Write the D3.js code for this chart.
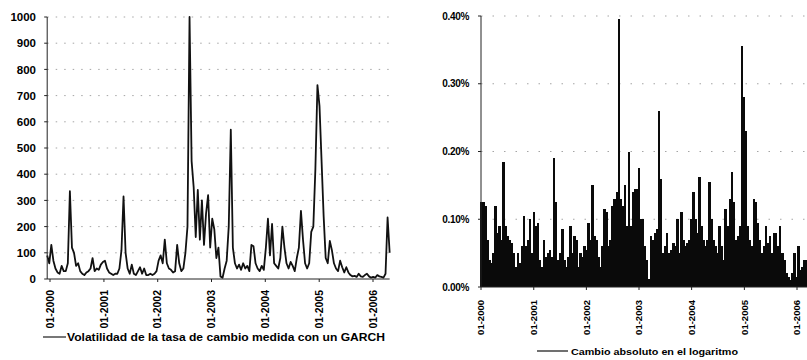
<!DOCTYPE html>
<html>
<head>
<meta charset="utf-8">
<script src="https://cdn.jsdelivr.net/npm/d3@7"></script>
<style>
  body { margin: 0; background: #fff; }
  svg { display: block; font-family: "Liberation Sans", Arial, sans-serif; font-weight: bold; }
</style>
</head>
<body>
<svg id="chart" width="807" height="360"></svg>
<script>
// GARCH volatility, one reading every two weeks starting mid-December 1999
var volStart = new Date(1999, 11, 13);
var volValues = [
  90, 60, 130, 70, 40, 25, 20, 50, 30, 30,
  60, 335, 120, 100, 50, 60, 30, 20, 15, 25,
  30, 40, 80, 30, 40, 35, 55, 65, 70, 40,
  25, 20, 15, 20, 20, 40, 110, 315, 100, 40,
  20, 55, 20, 15, 30, 45, 20, 40, 15, 15,
  20, 15, 20, 30, 70, 90, 60, 150, 60, 40,
  35, 25, 30, 130, 60, 30, 40, 100, 200, 1000,
  450, 350, 160, 340, 150, 300, 130, 250, 320, 120,
  230, 190, 80, 120, 10, 5, 40, 70, 200, 570,
  120, 60, 40, 55, 35, 60, 40, 50, 30, 130,
  125, 60, 40, 30, 50, 35, 120, 230, 90, 210,
  60, 50, 40, 80, 200, 120, 60, 40, 65, 50,
  30, 80, 120, 260, 150, 60, 40, 60, 180, 200,
  420, 740, 660, 450, 240, 80, 60, 145, 110, 60,
  40, 30, 70, 45, 25, 45, 25, 15, 10, 12,
  8, 20, 10, 8, 15, 20, 10, 5, 8, 5,
  15, 10, 8, 5, 20, 235, 100
];

// absolute change of the log (in %), one bar every two weeks from January 2000
var absStart = new Date(2000, 0, 3);
var absValues = [
  0.125, 0.125, 0.12, 0.07, 0.04, 0.035, 0.05, 0.12, 0.08, 0.09,
  0.07, 0.185, 0.09, 0.075, 0.07, 0.065, 0.05, 0.03, 0.05, 0.035,
  0.06, 0.105, 0.06, 0.07, 0.1, 0.05, 0.11, 0.09, 0.095, 0.04,
  0.03, 0.07, 0.045, 0.05, 0.055, 0.045, 0.19, 0.125, 0.04, 0.05,
  0.085, 0.04, 0.03, 0.045, 0.09, 0.05, 0.075, 0.07, 0.03, 0.05,
  0.045, 0.06, 0.055, 0.095, 0.07, 0.15, 0.075, 0.07, 0.045, 0.03,
  0.06, 0.115, 0.11, 0.06, 0.07, 0.12, 0.13, 0.14, 0.395, 0.13,
  0.12, 0.15, 0.09, 0.2, 0.09, 0.14, 0.145, 0.145, 0.175, 0.1,
  0.1, 0.06, 0.04, 0.012, 0.075, 0.07, 0.08, 0.085, 0.26, 0.16,
  0.05, 0.06, 0.08, 0.05, 0.055, 0.065, 0.06, 0.1, 0.05, 0.11,
  0.07, 0.06, 0.065, 0.07, 0.1, 0.14, 0.1, 0.08, 0.163, 0.09,
  0.07, 0.06, 0.07, 0.155, 0.1, 0.07, 0.06, 0.05, 0.09, 0.06,
  0.04, 0.115, 0.09, 0.13, 0.17, 0.125, 0.07, 0.075, 0.09, 0.355,
  0.28, 0.23, 0.09, 0.07, 0.06, 0.13, 0.125, 0.095, 0.07, 0.05,
  0.06, 0.09, 0.065, 0.075, 0.05, 0.08, 0.08, 0.06, 0.09, 0.05,
  0.04, 0.02, 0.015, 0.01, 0.02, 0.05, 0.015, 0.06, 0.025, 0.03,
  0.04, 0.04
];

var yearTicks = [2000, 2001, 2002, 2003, 2004, 2005, 2006];
var volTicks = [0, 100, 200, 300, 400, 500, 600, 700, 800, 900, 1000];
var absTicks = [0, 0.1, 0.2, 0.3, 0.4];

var volLabel = "Volatilidad de la tasa de cambio medida con un GARCH";
var absLabel = "Cambio absoluto en el logaritmo";

var svg = d3.select("#chart");
var fmtDate = d3.timeFormat("%m-%Y");
var DAY = 24 * 3600 * 1000;

var volData = volValues.map((v, i) => ({ date: new Date(volStart.getTime() + i * 14 * DAY), value: v }));
var absData = absValues.map((v, i) => ({ date: new Date(absStart.getTime() + i * 14 * DAY), value: v }));
var tickDates = yearTicks.map(y => new Date(y, 0, 1));

// ---------- left panel ----------
var xL = d3.scaleTime()
    .domain([new Date(2000, 0, 1), new Date(2006, 0, 1)])
    .range([50, 373]);
var yL = d3.scaleLinear().domain([0, 1000]).range([279, 17]);
var left = svg.append("g");
var leftX0 = xL(volData[0].date), leftX1 = xL(volData[volData.length - 1].date);

left.selectAll(".grid")
    .data(volTicks.filter(d => d > 0))
    .join("line")
    .attr("x1", leftX0).attr("x2", leftX1)
    .attr("y1", d => yL(d)).attr("y2", d => yL(d))
    .attr("stroke", "#a5a5a5").attr("stroke-width", 1)
    .attr("stroke-dasharray", "1.5,7");

left.append("path")
    .datum(volData)
    .attr("fill", "none")
    .attr("stroke", "#111")
    .attr("stroke-width", 1.8)
    .attr("stroke-linejoin", "round")
    .attr("d", d3.line().x(d => xL(d.date)).y(d => yL(d.value)));

left.append("line")
    .attr("x1", leftX0).attr("x2", leftX0).attr("y1", yL(1000)).attr("y2", yL(0))
    .attr("stroke", "#222");
left.append("line")
    .attr("x1", leftX0).attr("x2", leftX1).attr("y1", yL(0)).attr("y2", yL(0))
    .attr("stroke", "#222");

left.selectAll(".ytick")
    .data(volTicks)
    .join("line")
    .attr("x1", leftX0 - 3).attr("x2", leftX0)
    .attr("y1", d => yL(d)).attr("y2", d => yL(d))
    .attr("stroke", "#222");
left.selectAll(".ylab")
    .data(volTicks)
    .join("text")
    .attr("x", 36).attr("y", d => yL(d)).attr("dy", "0.36em")
    .attr("text-anchor", "end")
    .style("font-size", "11.5px")
    .text(d => d);

left.selectAll(".xtick")
    .data(tickDates)
    .join("line")
    .attr("x1", d => xL(d)).attr("x2", d => xL(d))
    .attr("y1", yL(0)).attr("y2", yL(0) + 3)
    .attr("stroke", "#222");
left.selectAll(".xlab")
    .data(tickDates)
    .join("text")
    .attr("transform", d => "translate(" + xL(d) + ",290) rotate(-90)")
    .attr("dy", "0.36em")
    .attr("text-anchor", "end")
    .style("font-size", "10.5px")
    .text(d => fmtDate(d));

left.append("line")
    .attr("x1", 43).attr("x2", 66).attr("y1", 337).attr("y2", 337)
    .attr("stroke", "#555").attr("stroke-width", 1.6);
left.append("text")
    .attr("x", 67).attr("y", 341)
    .style("font-size", "11px")
    .attr("textLength", 318).attr("lengthAdjust", "spacingAndGlyphs")
    .text(volLabel);

// ---------- right panel ----------
var xR = d3.scaleTime()
    .domain([new Date(2000, 0, 1), new Date(2006, 0, 1)])
    .range([481, 797]);
var yR = d3.scaleLinear().domain([0, 0.4]).range([287, 16]);
var right = svg.append("g");

right.selectAll(".grid")
    .data(absTicks.filter(d => d > 0))
    .join("line")
    .attr("x1", 481).attr("x2", 807)
    .attr("y1", d => yR(d)).attr("y2", d => yR(d))
    .attr("stroke", "#a5a5a5").attr("stroke-width", 1)
    .attr("stroke-dasharray", "1.5,10");

var barW = xR(new Date(2000, 0, 15)) - xR(new Date(2000, 0, 1));
right.selectAll(".bar")
    .data(absData)
    .join("rect")
    .attr("x", d => xR(d.date) - barW / 2)
    .attr("width", barW + 0.5)
    .attr("y", d => yR(d.value))
    .attr("height", d => yR(0) - yR(d.value))
    .attr("shape-rendering", "crispEdges")
    .attr("fill", "#0a0a0a");

right.append("line")
    .attr("x1", 481).attr("x2", 481).attr("y1", yR(0.4)).attr("y2", yR(0))
    .attr("stroke", "#222");
right.append("line")
    .attr("x1", 481).attr("x2", 807).attr("y1", yR(0)).attr("y2", yR(0))
    .attr("stroke", "#222");

right.selectAll(".ytick")
    .data(absTicks)
    .join("line")
    .attr("x1", 478).attr("x2", 481)
    .attr("y1", d => yR(d)).attr("y2", d => yR(d))
    .attr("stroke", "#222");
right.selectAll(".ylab")
    .data(absTicks)
    .join("text")
    .attr("x", 469).attr("y", d => yR(d)).attr("dy", "0.36em")
    .attr("text-anchor", "end")
    .style("font-size", "10px")
    .attr("letter-spacing", "-0.3px")
    .text(d => d3.format(".2f")(d) + "%");

right.selectAll(".xtick")
    .data(tickDates)
    .join("line")
    .attr("x1", d => xR(d)).attr("x2", d => xR(d))
    .attr("y1", yR(0)).attr("y2", yR(0) + 3)
    .attr("stroke", "#222");
right.selectAll(".xlab")
    .data(tickDates)
    .join("text")
    .attr("transform", d => "translate(" + xR(d) + ",300) rotate(-90)")
    .attr("dy", "0.36em")
    .attr("text-anchor", "end")
    .style("font-size", "9.5px")
    .text(d => fmtDate(d));

right.append("line")
    .attr("x1", 537).attr("x2", 568).attr("y1", 351).attr("y2", 351)
    .attr("stroke", "#111").attr("stroke-width", 1.2);
right.append("text")
    .attr("x", 571).attr("y", 354.5)
    .style("font-size", "9.5px")
    .attr("textLength", 167).attr("lengthAdjust", "spacingAndGlyphs")
    .text(absLabel);
</script>
</body>
</html>
